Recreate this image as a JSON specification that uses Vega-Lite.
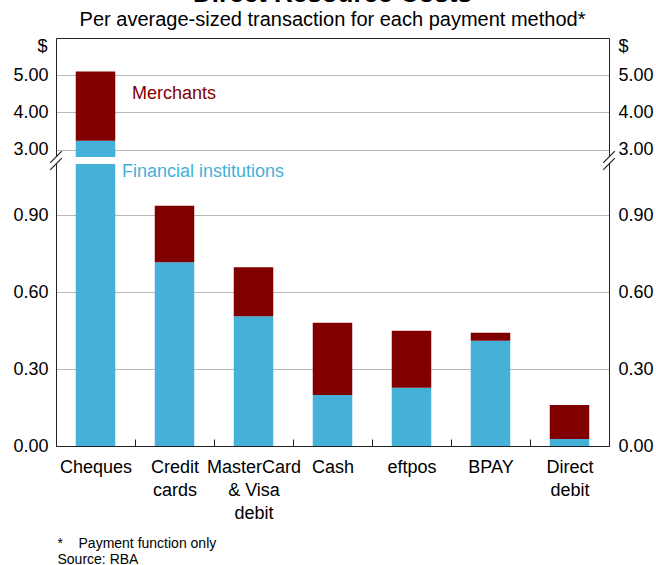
{
  "$schema": "https://vega.github.io/schema/vega-lite/v6.json",
  "width": 553,
  "height": 408,
  "autosize": {"type": "none"},
  "padding": {"left": 56, "top": 38, "right": 47, "bottom": 119},
  "background": "white",
  "config": {
    "font": "Liberation Sans",
    "view": {"stroke": null}
  },
  "title": {
    "text": "Direct Resource Costs",
    "subtitle": "Per average-sized transaction for each payment method*",
    "anchor": "middle",
    "frame": "group",
    "font": "Liberation Sans",
    "fontSize": 26,
    "fontWeight": "bold",
    "color": "#000000",
    "subtitleFont": "Liberation Sans",
    "subtitleFontSize": 20,
    "subtitleColor": "#000000",
    "subtitlePadding": 3,
    "offset": 7
  },
  "resolve": {
    "scale": {"x": "independent"},
    "axis": {"x": "independent", "y": "independent"}
  },
  "layer": [
    {
      "data": {
        "values": [
          {"method": "Cheques", "sector": "Financial institutions", "cost": 3.24},
          {"method": "Cheques", "sector": "Merchants", "cost": 1.86},
          {"method": "Credit cards", "sector": "Financial institutions", "cost": 0.717},
          {"method": "Credit cards", "sector": "Merchants", "cost": 0.22},
          {"method": "MasterCard & Visa debit", "sector": "Financial institutions", "cost": 0.506},
          {"method": "MasterCard & Visa debit", "sector": "Merchants", "cost": 0.191},
          {"method": "Cash", "sector": "Financial institutions", "cost": 0.199},
          {"method": "Cash", "sector": "Merchants", "cost": 0.282},
          {"method": "eftpos", "sector": "Financial institutions", "cost": 0.227},
          {"method": "eftpos", "sector": "Merchants", "cost": 0.223},
          {"method": "BPAY", "sector": "Financial institutions", "cost": 0.411},
          {"method": "BPAY", "sector": "Merchants", "cost": 0.031},
          {"method": "Direct debit", "sector": "Financial institutions", "cost": 0.027},
          {"method": "Direct debit", "sector": "Merchants", "cost": 0.133}
        ]
      },
      "mark": {"type": "bar", "width": {"band": 0.5}},
      "encoding": {
        "x": {
          "field": "method",
          "type": "nominal",
          "sort": null,
          "scale": {"paddingInner": 0, "paddingOuter": 0},
          "axis": {
            "orient": "bottom",
            "tickBand": "extent",
            "ticks": true,
            "tickSize": -7,
            "tickColor": "#222222",
            "tickWidth": 1,
            "domain": true,
            "domainColor": "#222222",
            "grid": false,
            "labelAngle": 0,
            "labelPadding": 19,
            "labelFontSize": 18,
            "labelColor": "#000000",
            "labelLineHeight": 23,
            "labelBaseline": "top",
            "labelExpr": "datum.label == 'MasterCard & Visa debit' ? ['MasterCard', '& Visa', 'debit'] : split(datum.label, ' ')",
            "title": ["*\u00a0\u00a0\u00a0\u00a0Payment function only", "Source: RBA"],
            "titleAnchor": "start",
            "titleAlign": "left",
            "titleX": 1,
            "titleY": 90,
            "titleBaseline": "top",
            "titleFontSize": 14,
            "titleFontWeight": "normal",
            "titleLineHeight": 16,
            "titleColor": "#000000"
          }
        },
        "y": {
          "field": "cost",
          "type": "quantitative",
          "stack": "zero",
          "scale": {"domain": [0, 1.1, 2.8, 6], "range": [408, 126, 119, 0], "nice": false, "zero": false},
          "axis": {
            "orient": "left",
            "values": [0, 0.3, 0.6, 0.9, 3, 4, 5],
            "format": ".2f",
            "grid": true,
            "gridColor": "#b8b8b8",
            "gridWidth": 1,
            "ticks": false,
            "domain": true,
            "domainColor": "#222222",
            "labelPadding": 8,
            "labelFontSize": 18,
            "labelColor": "#000000",
            "labelOverlap": false,
            "title": "$",
            "titleAngle": 0,
            "titleAlign": "right",
            "titleBaseline": "middle",
            "titleX": -9,
            "titleY": 8,
            "titleFontSize": 18,
            "titleFontWeight": "normal",
            "titleColor": "#000000"
          }
        },
        "color": {
          "field": "sector",
          "type": "nominal",
          "scale": {"domain": ["Financial institutions", "Merchants"], "range": ["#45b1d8", "#800000"]},
          "legend": null
        },
        "order": {"field": "sector", "sort": "ascending"}
      }
    },
    {
      "data": {"values": [{}]},
      "mark": {"type": "text", "text": "Merchants", "align": "left", "baseline": "middle", "dx": -3, "fontSize": 18, "color": "#800000"},
      "encoding": {
        "x": {
          "datum": "Cheques",
          "type": "nominal",
          "bandPosition": 1,
          "scale": {"type": "band", "domain": ["Cheques", "Credit cards", "MasterCard & Visa debit", "Cash", "eftpos", "BPAY", "Direct debit"], "paddingInner": 0, "paddingOuter": 0},
          "axis": null
        },
        "y": {"datum": 4.49, "type": "quantitative", "axis": null}
      }
    },
    {
      "data": {"values": [{}]},
      "mark": {"type": "text", "text": "Financial institutions", "align": "left", "baseline": "middle", "dx": -13, "fontSize": 18, "color": "#45b1d8"},
      "encoding": {
        "x": {
          "datum": "Cheques",
          "type": "nominal",
          "bandPosition": 1,
          "scale": {"type": "band", "domain": ["Cheques", "Credit cards", "MasterCard & Visa debit", "Cash", "eftpos", "BPAY", "Direct debit"], "paddingInner": 0, "paddingOuter": 0},
          "axis": null
        },
        "y": {"datum": 1.069, "type": "quantitative", "axis": null}
      }
    },
    {
      "data": {"values": [{}]},
      "mark": {"type": "rect", "color": "white"},
      "encoding": {
        "x": {"datum": -0.01, "type": "quantitative", "scale": {"domain": [0, 1], "nice": false, "zero": false}, "axis": null},
        "x2": {"datum": 1.01},
        "y": {"datum": 1.1, "type": "quantitative", "axis": null},
        "y2": {"datum": 2.8}
      }
    },
    {
      "data": {
        "values": [
          {"side": 0, "v": 2.8},
          {"side": 0, "v": 1.1},
          {"side": 1, "v": 2.8},
          {"side": 1, "v": 1.1}
        ]
      },
      "mark": {"type": "point", "shape": "M-1,1L1,-1", "size": 137, "filled": false, "color": "#222222", "stroke": "#222222", "strokeWidth": 1.2, "opacity": 1},
      "encoding": {
        "x": {
          "field": "side",
          "type": "quantitative",
          "scale": {"domain": [0, 1], "nice": false, "zero": false},
          "axis": {"orient": "top", "labels": false, "ticks": false, "grid": false, "domain": true, "domainColor": "#222222", "title": null}
        },
        "y": {
          "field": "v",
          "type": "quantitative",
          "axis": {
            "orient": "right",
            "values": [0, 0.3, 0.6, 0.9, 3, 4, 5],
            "format": ".2f",
            "grid": false,
            "ticks": false,
            "domain": true,
            "domainColor": "#222222",
            "labelPadding": 9,
            "labelFontSize": 18,
            "labelColor": "#000000",
            "labelOverlap": false,
            "title": "$",
            "titleAngle": 0,
            "titleAlign": "left",
            "titleBaseline": "middle",
            "titleX": 9,
            "titleY": 8,
            "titleFontSize": 18,
            "titleFontWeight": "normal",
            "titleColor": "#000000"
          }
        }
      }
    }
  ]
}
